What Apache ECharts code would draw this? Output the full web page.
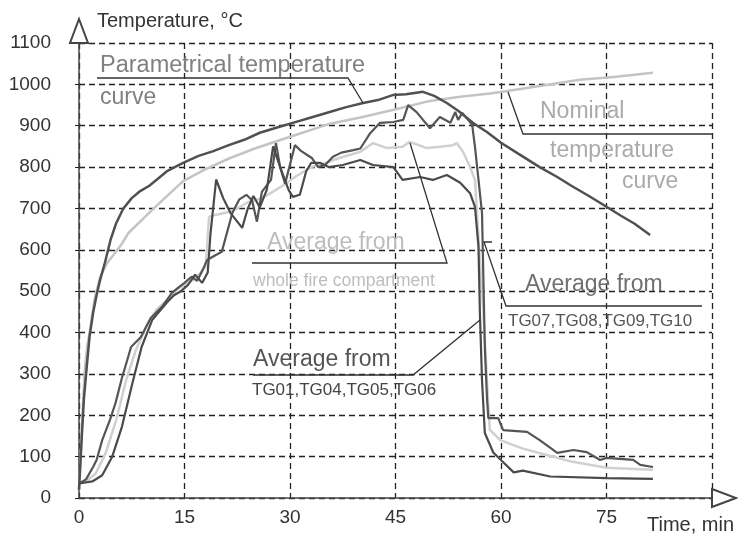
<!DOCTYPE html>
<html lang="en">
<head>
    <meta charset="UTF-8">
    <title>Temperature curves</title>
    <script src="https://cdn.jsdelivr.net/npm/echarts@6/dist/echarts.min.js"></script>
    <style>
        html, body { margin: 0; padding: 0; background: #fff; }
    </style>
</head>
<body>
<div id="main" style="width:738px;height:538px"></div>
<script>
    // x axis ticks (min) and y axis ticks (deg C)
    let xTicks = [0, 15, 30, 45, 60, 75, 90];
    let yMax = 1100;

    // parametric temperature curve
    let paramTime = [0, 0.4, 0.7, 1.1, 1.5, 2, 2.5, 3, 3.7, 4.5, 5.3, 6.3, 7.5, 8.7, 10, 11, 12.5, 14.8, 17, 19,
        21.3, 23.5, 25.7, 28.4, 31, 33, 36, 38, 40.4, 42.5, 44.6, 46.5, 48.9, 50.5, 52.3, 54, 56, 58, 60, 62.5,
        65.5, 68, 70, 72.5, 75, 77, 79, 81.2];
    let paramTemp = [20, 150, 240, 317, 390, 447, 490, 527, 570, 625, 665, 700, 725, 742, 755, 769, 790, 810, 827, 838,
        853, 866, 883, 897, 910, 920, 935, 945, 955, 962, 974, 976, 982, 972, 955, 935, 907, 885, 859, 832,
        800, 776, 755, 730, 704, 683, 663, 636];

    // nominal temperature curve
    let nomTime = [0, 0.3, 0.6, 0.85, 1.2, 1.6, 2.2, 3, 4, 5, 6, 7, 8.7, 10, 12, 14.8, 18, 21.5, 25, 29.6,
        35.7, 40, 44.6, 49.9, 54.2, 58.4, 60.9, 66, 71.2, 76, 81.6];
    let nomTemp = [20, 120, 240, 317, 370, 410, 480, 534, 568, 590, 612, 640, 668, 690, 722, 766, 795, 822, 845, 871,
        905, 920, 938, 960, 970, 978, 984, 997, 1011, 1018, 1028];

    // average from whole fire compartment
    let avgTime = [0, 1, 2.4, 3.8, 5.3, 6.7, 8.1, 9.5, 11, 12.5, 14, 15, 16.5, 18, 18.5, 19.5, 21, 22.5, 24, 26,
        28, 29.6, 30.7, 33, 35, 37, 40, 41.8, 43.8, 46, 47, 49.5, 51.3, 53.2, 53.7, 54.6, 55.6, 56.3, 56.9, 57.5,
        58, 58.4, 59.9, 63, 66.5, 70, 75, 81.6];
    let avgTemp = [35, 40, 60, 109, 189, 285, 358, 413, 455, 478, 505, 515, 530, 560, 680, 685, 690, 700, 715, 725,
        745, 762, 776, 800, 810, 822, 837, 858, 846, 849, 861, 846, 849, 853, 858, 837, 800, 769, 600, 447,
        285, 165, 140, 120, 104, 88, 73, 68];

    // average from TG07,TG08,TG09,TG10
    let tgHighTime = [0, 1, 2, 2.5, 3.3, 4.4, 5.2, 6.1, 6.8, 7.4, 8.8, 10.2, 11.8, 13.2, 14.2, 15, 16, 16.8, 17.5, 18.2,
        19.2, 20.3, 21.8, 22.8, 23.8, 24.6, 25.3, 26, 27.3, 28, 28.6, 29.3, 30.7, 31.5, 33.1, 34, 35, 36.1, 37.3, 39,
        40, 41.4, 42.8, 44.7, 46.1, 46.8, 48, 49.9, 51.3, 52.8, 53.5, 53.9, 54.5, 55.9, 56.3, 56.8, 57.3, 57.5, 57.7, 58,
        58.2, 59.6, 60.3, 63.7, 65.5, 68, 70.3, 72.2, 74.1, 75, 78.8, 79.8, 81.6];
    let tgHighTemp = [35, 45, 75, 92, 140, 189, 230, 290, 330, 365, 389, 435, 462, 496, 510, 520, 535, 525, 548, 575,
        585, 595, 689, 722, 733, 720, 668, 740, 769, 858, 800, 760, 853, 840, 822, 800, 805, 825, 835, 841,
        845, 882, 907, 909, 914, 950, 933, 894, 921, 907, 933, 914, 931, 902, 849, 769, 689, 527, 365, 244,
        193, 193, 164, 160, 140, 109, 116, 111, 92, 97, 92, 80, 75];

    // average from TG01,TG04,TG05,TG06
    let tgLowTime = [0, 1.9, 3.3, 4.7, 6.1, 7.6, 8.9, 10.4, 12.4, 13.5, 14.5, 15.5, 16.5, 17.5, 18.3, 18.7, 19.5, 20.5, 21.5, 23.2,
        24, 24.8, 25.7, 26.7, 27.6, 28.6, 29.8, 30.4, 31.4, 32.3, 33, 34.3, 35.5, 37.5, 40, 41.8, 44.7, 46, 48.5, 50.3,
        52.3, 54.2, 55.6, 56.3, 56.8, 57, 57.3, 57.7, 58.9, 60.1, 61.8, 63.1, 67, 75, 81.6];
    let tgLowTemp = [35, 40, 55, 99, 172, 278, 365, 430, 471, 490, 500, 515, 540, 520, 545, 640, 770, 725, 690, 653,
        700, 730, 703, 745, 850, 800, 745, 728, 733, 790, 810, 810, 800, 805, 817, 805, 800, 769, 776, 769,
        781, 762, 737, 704, 607, 447, 285, 157, 110, 90, 62, 66, 52, 48, 46];

    function pairs(t, v) {
        return t.map(function (x, i) { return [x, v[i]]; });
    }

    let font = '"Liberation Sans", Arial, sans-serif';

    function label(x, y, text, color, size) {
        return {
            type: 'text', x: x, y: y, z: 100,
            style: {
                text: text, fill: color, fontSize: size, fontFamily: font,
                align: 'left', verticalAlign: 'middle', textAlign: 'left', textVerticalAlign: 'middle'
            }
        };
    }

    function leader(points) {
        return {
            type: 'polyline', z: 100,
            shape: {points: points},
            style: {stroke: '#333', lineWidth: 1.3, fill: null}
        };
    }

    function line(name, data, color, width, z) {
        return {
            name: name, type: 'line', data: data, showSymbol: false, symbol: 'none',
            z: z, animation: false,
            lineStyle: {color: color, width: width}
        };
    }

    let mychart = echarts.init(document.getElementById('main'));
    let dash = {color: '#222', type: [6, 4], width: 1.3};
    let option = {
        animation: false,
        grid: {left: 79, right: 26, top: 43, bottom: 40},
        xAxis: {
            type: 'value', min: xTicks[0], max: xTicks[xTicks.length - 1], interval: 15,
            axisLine: {
                lineStyle: {color: '#444', width: 1.5},
                symbol: ['none', 'emptyTriangle'], symbolSize: [18, 24], symbolOffset: [0, 12]
            },
            axisTick: {show: false},
            splitLine: {show: true, lineStyle: dash},
            axisLabel: {
                color: '#333', fontSize: 19, fontFamily: font, margin: 10,
                formatter: function (v) { return v === 90 ? '' : String(v); }
            }
        },
        yAxis: {
            type: 'value', min: 0, max: yMax, interval: 100,
            axisLine: {
                show: true,
                lineStyle: {color: '#444', width: 1.5},
                symbol: ['none', 'emptyTriangle'], symbolSize: [18, 24], symbolOffset: [0, 12]
            },
            axisTick: {show: true, length: 4, lineStyle: {color: '#222'}},
            splitLine: {show: true, lineStyle: dash},
            axisLabel: {
                color: '#333', fontSize: 19, fontFamily: font, margin: 28,
                formatter: function (v) { return String(v); }
            }
        },
        series: [
            line('Nominal', pairs(nomTime, nomTemp), '#c4c4c4', 2.5, 2),
            line('Whole', pairs(avgTime, avgTemp), '#d0d0d0', 2.5, 3),
            line('Parametric', pairs(paramTime, paramTemp), '#505050', 2.5, 4),
            line('TG07-TG10', pairs(tgHighTime, tgHighTemp), '#555555', 2.2, 5),
            line('TG01-TG06', pairs(tgLowTime, tgLowTemp), '#4a4a4a', 2.2, 6)
        ],
        graphic: [
            label(97, 21, 'Temperature, °C', '#333', 20),
            label(647, 525, 'Time, min', '#333', 20),

            label(100, 66, 'Parametrical temperature', '#808080', 23.5),
            label(100, 98, 'curve', '#808080', 23),
            leader([[97, 78], [348, 78], [363, 103]]),

            label(540, 112, 'Nominal', '#aaaaaa', 23),
            label(550, 151, 'temperature', '#aaaaaa', 23),
            label(622, 182, 'curve', '#aaaaaa', 23),
            leader([[508, 92], [523, 134], [712, 134]]),

            label(267, 243, 'Average from', '#bdbdbd', 23),
            label(253, 281, 'whole fire compartment', '#bdbdbd', 17.5),
            leader([[252, 263], [447, 263], [410, 143]]),

            label(525, 285, 'Average from', '#707070', 23),
            label(508, 321, 'TG07,TG08,TG09,TG10', '#555', 17),
            leader([[702, 306], [506, 306], [484, 242], [492, 242]]),

            label(253, 360, 'Average from', '#555', 23),
            label(252, 390, 'TG01,TG04,TG05,TG06', '#444', 17),
            leader([[253, 375], [413, 375], [480, 320]])
        ]
    };
    mychart.setOption(option);
</script>
</body>
</html>
